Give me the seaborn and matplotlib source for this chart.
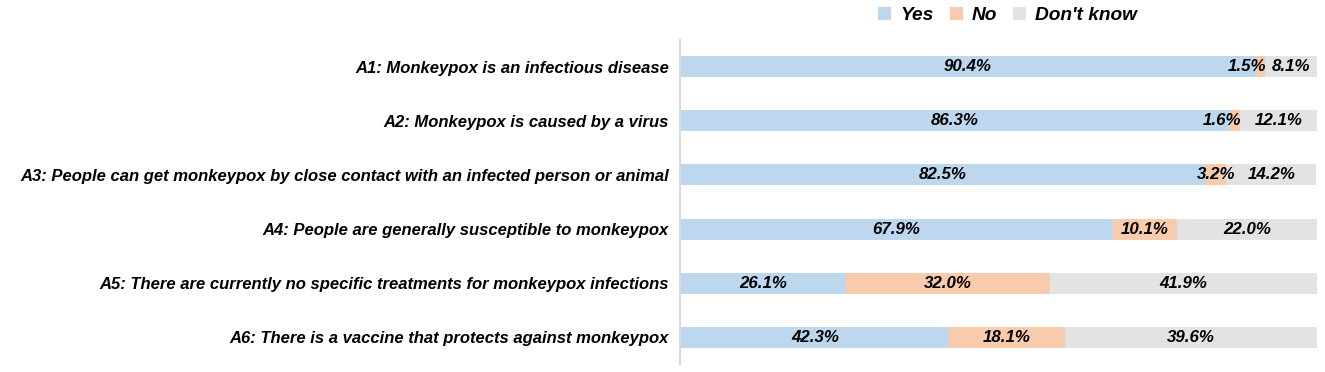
import numpy as np
import pandas as pd
import seaborn as sns
from matplotlib import pyplot as plt
from matplotlib.patches import Patch

sns.set_style('white')
plt.rcParams['font.family'] = ['Liberation Sans', 'DejaVu Sans']
plt.rcParams['text.color'] = 'black'
plt.rcParams['ytick.color'] = 'black'

# survey items and answer shares (%)
items = ['A1: Monkeypox is an infectious disease',
         'A2: Monkeypox is caused by a virus',
         'A3: People can get monkeypox by close contact with an infected person or animal',
         'A4: People are generally susceptible to monkeypox',
         'A5: There are currently no specific treatments for monkeypox infections',
         'A6: There is a vaccine that protects against monkeypox']
yes = [90.4, 86.3, 82.5, 67.9, 26.1, 42.3]
no = [1.5, 1.6, 3.2, 10.1, 32.0, 18.1]
dont_know = [8.1, 12.1, 14.2, 22.0, 41.9, 39.6]

answers = ['Yes', 'No', "Don't know"]
colors = ['#BDD7EE', '#F8CBAD', '#E3E3E3']

df = pd.DataFrame({'item': items, 'Yes': yes, 'No': no, "Don't know": dont_know})
df['cum_yes'] = df['Yes']
df['cum_no'] = df['Yes'] + df['No']
df['cum_dk'] = df['Yes'] + df['No'] + df["Don't know"]

fig = plt.figure(figsize=(13.25, 3.72), dpi=100)
ax = fig.add_axes([0.5132, 0.0215, 0.4808, 0.871])

# stacked bars: draw the cumulative totals back to front
for col, c in zip(['cum_dk', 'cum_no', 'cum_yes'], colors[::-1]):
    sns.barplot(data=df, x=col, y='item', color=c, width=0.39, ax=ax,
                saturation=1, linewidth=0, edgecolor='none')

lab_font = dict(fontsize=12.2, fontweight='bold', fontstyle='italic', color='black', va='center')
for i, row in df.iterrows():
    starts = [0, row['cum_yes'], row['cum_no']]
    vals = [row['Yes'], row['No'], row["Don't know"]]
    for s, v in zip(starts, vals):
        if v < 2:
            ax.text(s + v + 0.2, i, f'{v:.1f}%', ha='right', **lab_font)
        else:
            ax.text(s + v / 2, i, f'{v:.1f}%', ha='center', **lab_font)

ax.set_xlim(0, 100)
ax.set_ylim(5.49, -0.49)
ax.set_xlabel('')
ax.set_ylabel('')
ax.set_xticks([])
ax.tick_params(axis='y', length=0, pad=8)
for lbl in ax.get_yticklabels():
    lbl.set_fontsize(12)
    lbl.set_fontweight('bold')
    lbl.set_fontstyle('italic')
    lbl.set_color('black')
for side in ['top', 'right', 'bottom']:
    ax.spines[side].set_visible(False)
ax.spines['left'].set_color('#D9D9D9')
ax.spines['left'].set_linewidth(1.5)

handles = [Patch(facecolor=c, edgecolor='none', label=a) for a, c in zip(answers, colors)]
fig.legend(handles=handles, loc='center', bbox_to_anchor=(0.7604, 0.958), ncol=3, frameon=False,
           handlelength=0.68, handleheight=0.68, handletextpad=0.45, columnspacing=0.85,
           prop=dict(size=13.8, weight='bold', style='italic'))

fig.savefig('out.png', dpi=100)
